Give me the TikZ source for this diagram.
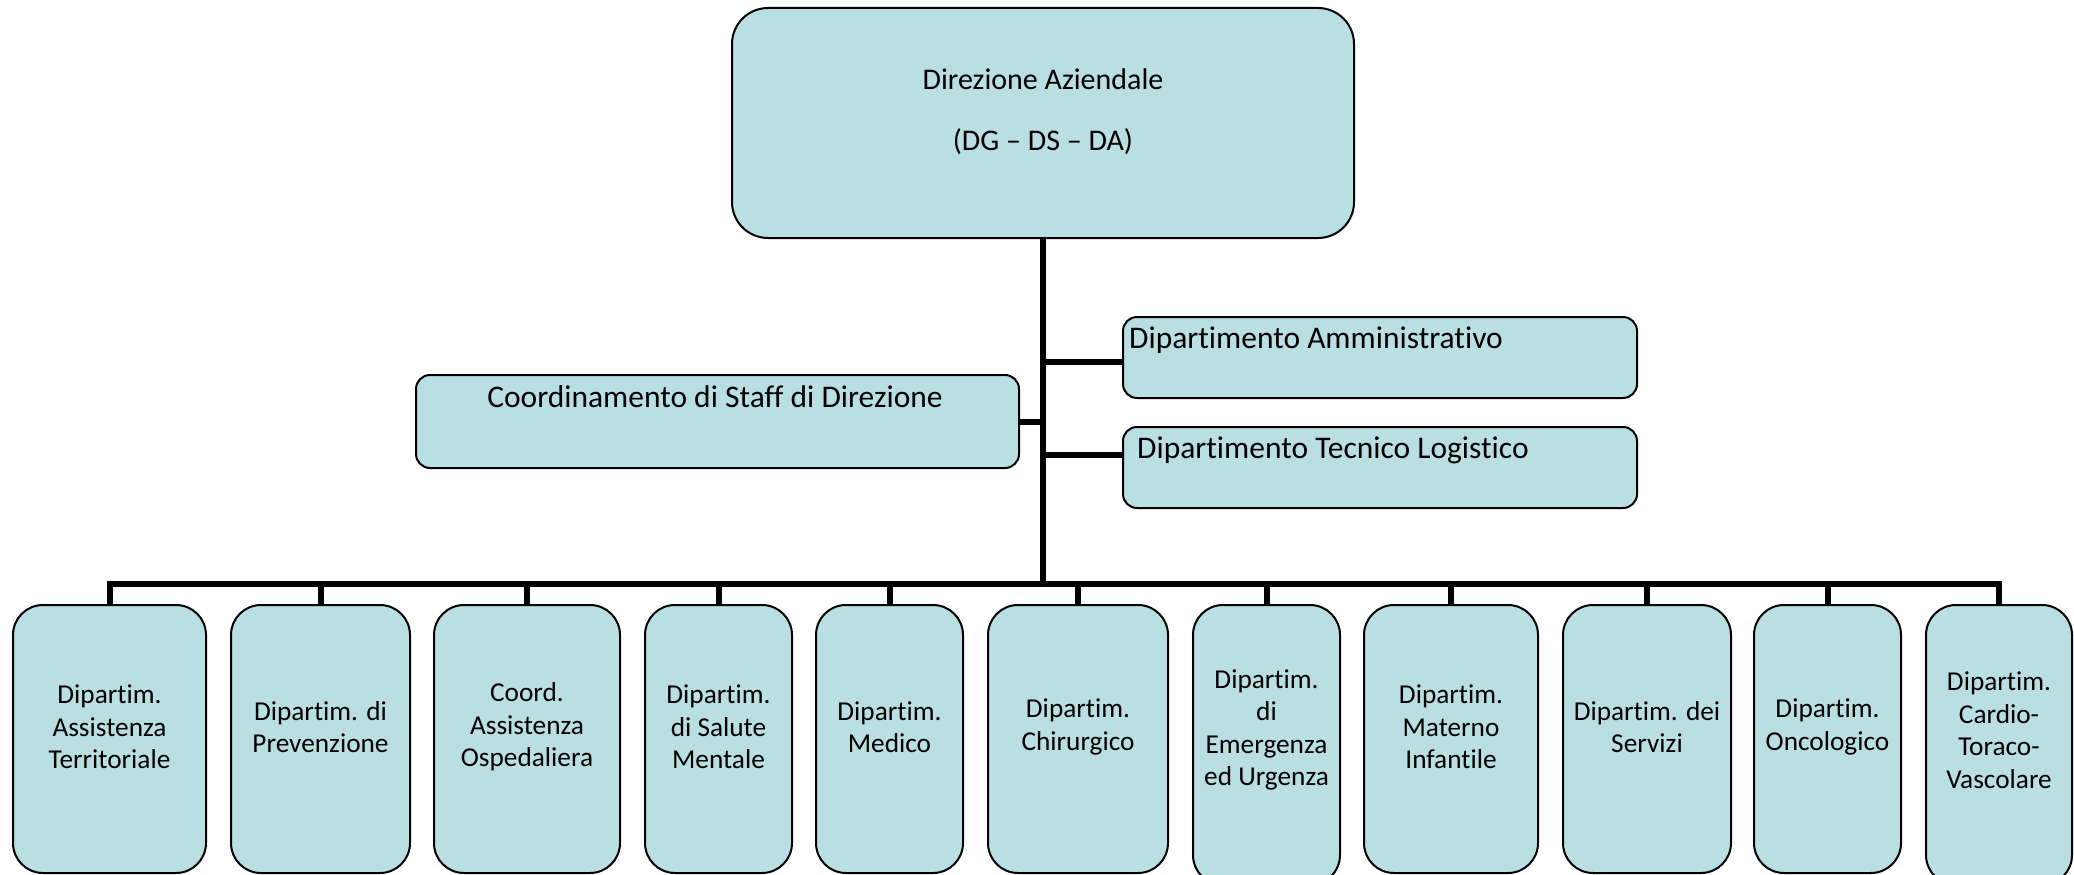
\documentclass[tikz,border=0pt]{standalone}
\usepackage{fontspec}
\setmainfont{Carlito}[Ligatures={NoCommon}]
\definecolor{boxfill}{HTML}{B9DFE3}
\begin{document}
\begin{tikzpicture}[x=1pt,y=-1pt,
  box/.style={draw=black, line width=2pt, fill=boxfill, inner sep=0pt, outer sep=0pt, anchor=north west},
  lowbox/.style={box, rounded corners=30pt, minimum height=268pt},
  midbox/.style={box, rounded corners=14pt},
  conn/.style={draw=black, line width=6pt, line join=miter},
  lab/.style={align=center, inner sep=0pt, font=\fontsize{27.3}{32.5}\selectfont},
  mlab/.style={inner sep=0pt, font=\fontsize{31.5}{37}\selectfont},
]
\useasboundingbox (0,0) rectangle (2074,875);
% top box
\node[box, rounded corners=36pt, minimum width=622pt, minimum height=230pt] (top) at (732,8) {};
\node[align=center, inner sep=0pt, font=\fontsize{30}{36}\selectfont] (topT) at (1043,112) {Direzione Aziendale\\[25pt](DG – DS – DA)};
% middle boxes
\node[midbox, minimum width=603pt, minimum height=93pt] (staff) at (416,375) {};
\node[mlab] (staffT) at (715,397) {Coordinamento di Staff di Direzione};
\node[midbox, minimum width=514pt, minimum height=81pt] (amm) at (1123,317) {};
\node[mlab, anchor=west] (ammT) at (1129,340) {Dipartimento Amministrativo};
\node[midbox, minimum width=514pt, minimum height=81pt] (tec) at (1123,427) {};
\node[mlab, anchor=west] (tecT) at (1137,450) {Dipartimento Tecnico Logistico};
% lower boxes
\node[lowbox, minimum width=193pt] (b1) at (13,605) {};
\node[lowbox, minimum width=179pt] (b2) at (231,605) {};
\node[lowbox, minimum width=186pt] (b3) at (434,605) {};
\node[lowbox, minimum width=147pt] (b4) at (645,605) {};
\node[lowbox, minimum width=147pt] (b5) at (816,605) {};
\node[lowbox, minimum width=180pt] (b6) at (988,605) {};
\node[lowbox, minimum width=147pt, minimum height=280pt] (b7) at (1193,605) {};
\node[lowbox, minimum width=174pt] (b8) at (1364,605) {};
\node[lowbox, minimum width=168pt] (b9) at (1563,605) {};
\node[lowbox, minimum width=147pt] (b10) at (1754,605) {};
\node[lowbox, minimum width=146pt, minimum height=280pt] (b11) at (1926,605) {};
\node[lab] (t1) at ([yshift=12pt]b1.center) {Dipartim.\\Assistenza\\Territoriale};
\node[lab] (t2) at ([yshift=12pt]b2.center) {Dipartim. di\\Prevenzione};
\node[lab] (t3) at ([yshift=12pt]b3.center) {Coord.\\Assistenza\\Ospedaliera};
\node[lab] (t4) at ([yshift=12pt]b4.center) {Dipartim.\\di Salute\\Mentale};
\node[lab] (t5) at ([yshift=12pt]b5.center) {Dipartim.\\Medico};
\node[lab] (t6) at ([yshift=12pt]b6.center) {Dipartim.\\Chirurgico};
\node[lab] (t7) at ([yshift=15pt]b7.center) {Dipartim.\\di\\Emergenza\\ed Urgenza};
\node[lab] (t8) at ([yshift=12pt]b8.center) {Dipartim.\\Materno\\Infantile};
\node[lab] (t9) at ([yshift=12pt]b9.center) {Dipartim. dei\\Servizi};
\node[lab] (t10) at ([yshift=12pt]b10.center) {Dipartim.\\Oncologico};
\node[lab] (t11) at ([yshift=15pt]b11.center) {Dipartim.\\Cardio-\\Toraco-\\Vascolare};
% connectors
\coordinate (bus) at (1043,584);
\coordinate (ammJ) at (1043,362);
\coordinate (tecJ) at (1043,455);
\draw[conn] (top.south) -- (top.south |- bus);
\draw[conn] (b1.north) -- (b1.north |- bus) -- (b11.north |- bus) -- (b11.north);
\foreach \b in {b2,b3,b4,b5,b6,b7,b8,b9,b10}{
  \draw[conn] (\b.north) -- (\b.north |- bus);
}
\draw[conn] (staff.east) -- (staff.east -| top.south);
\draw[conn] (ammJ) -- (ammJ -| amm.west);
\draw[conn] (tecJ) -- (tecJ -| tec.west);
\end{tikzpicture}
\end{document}
